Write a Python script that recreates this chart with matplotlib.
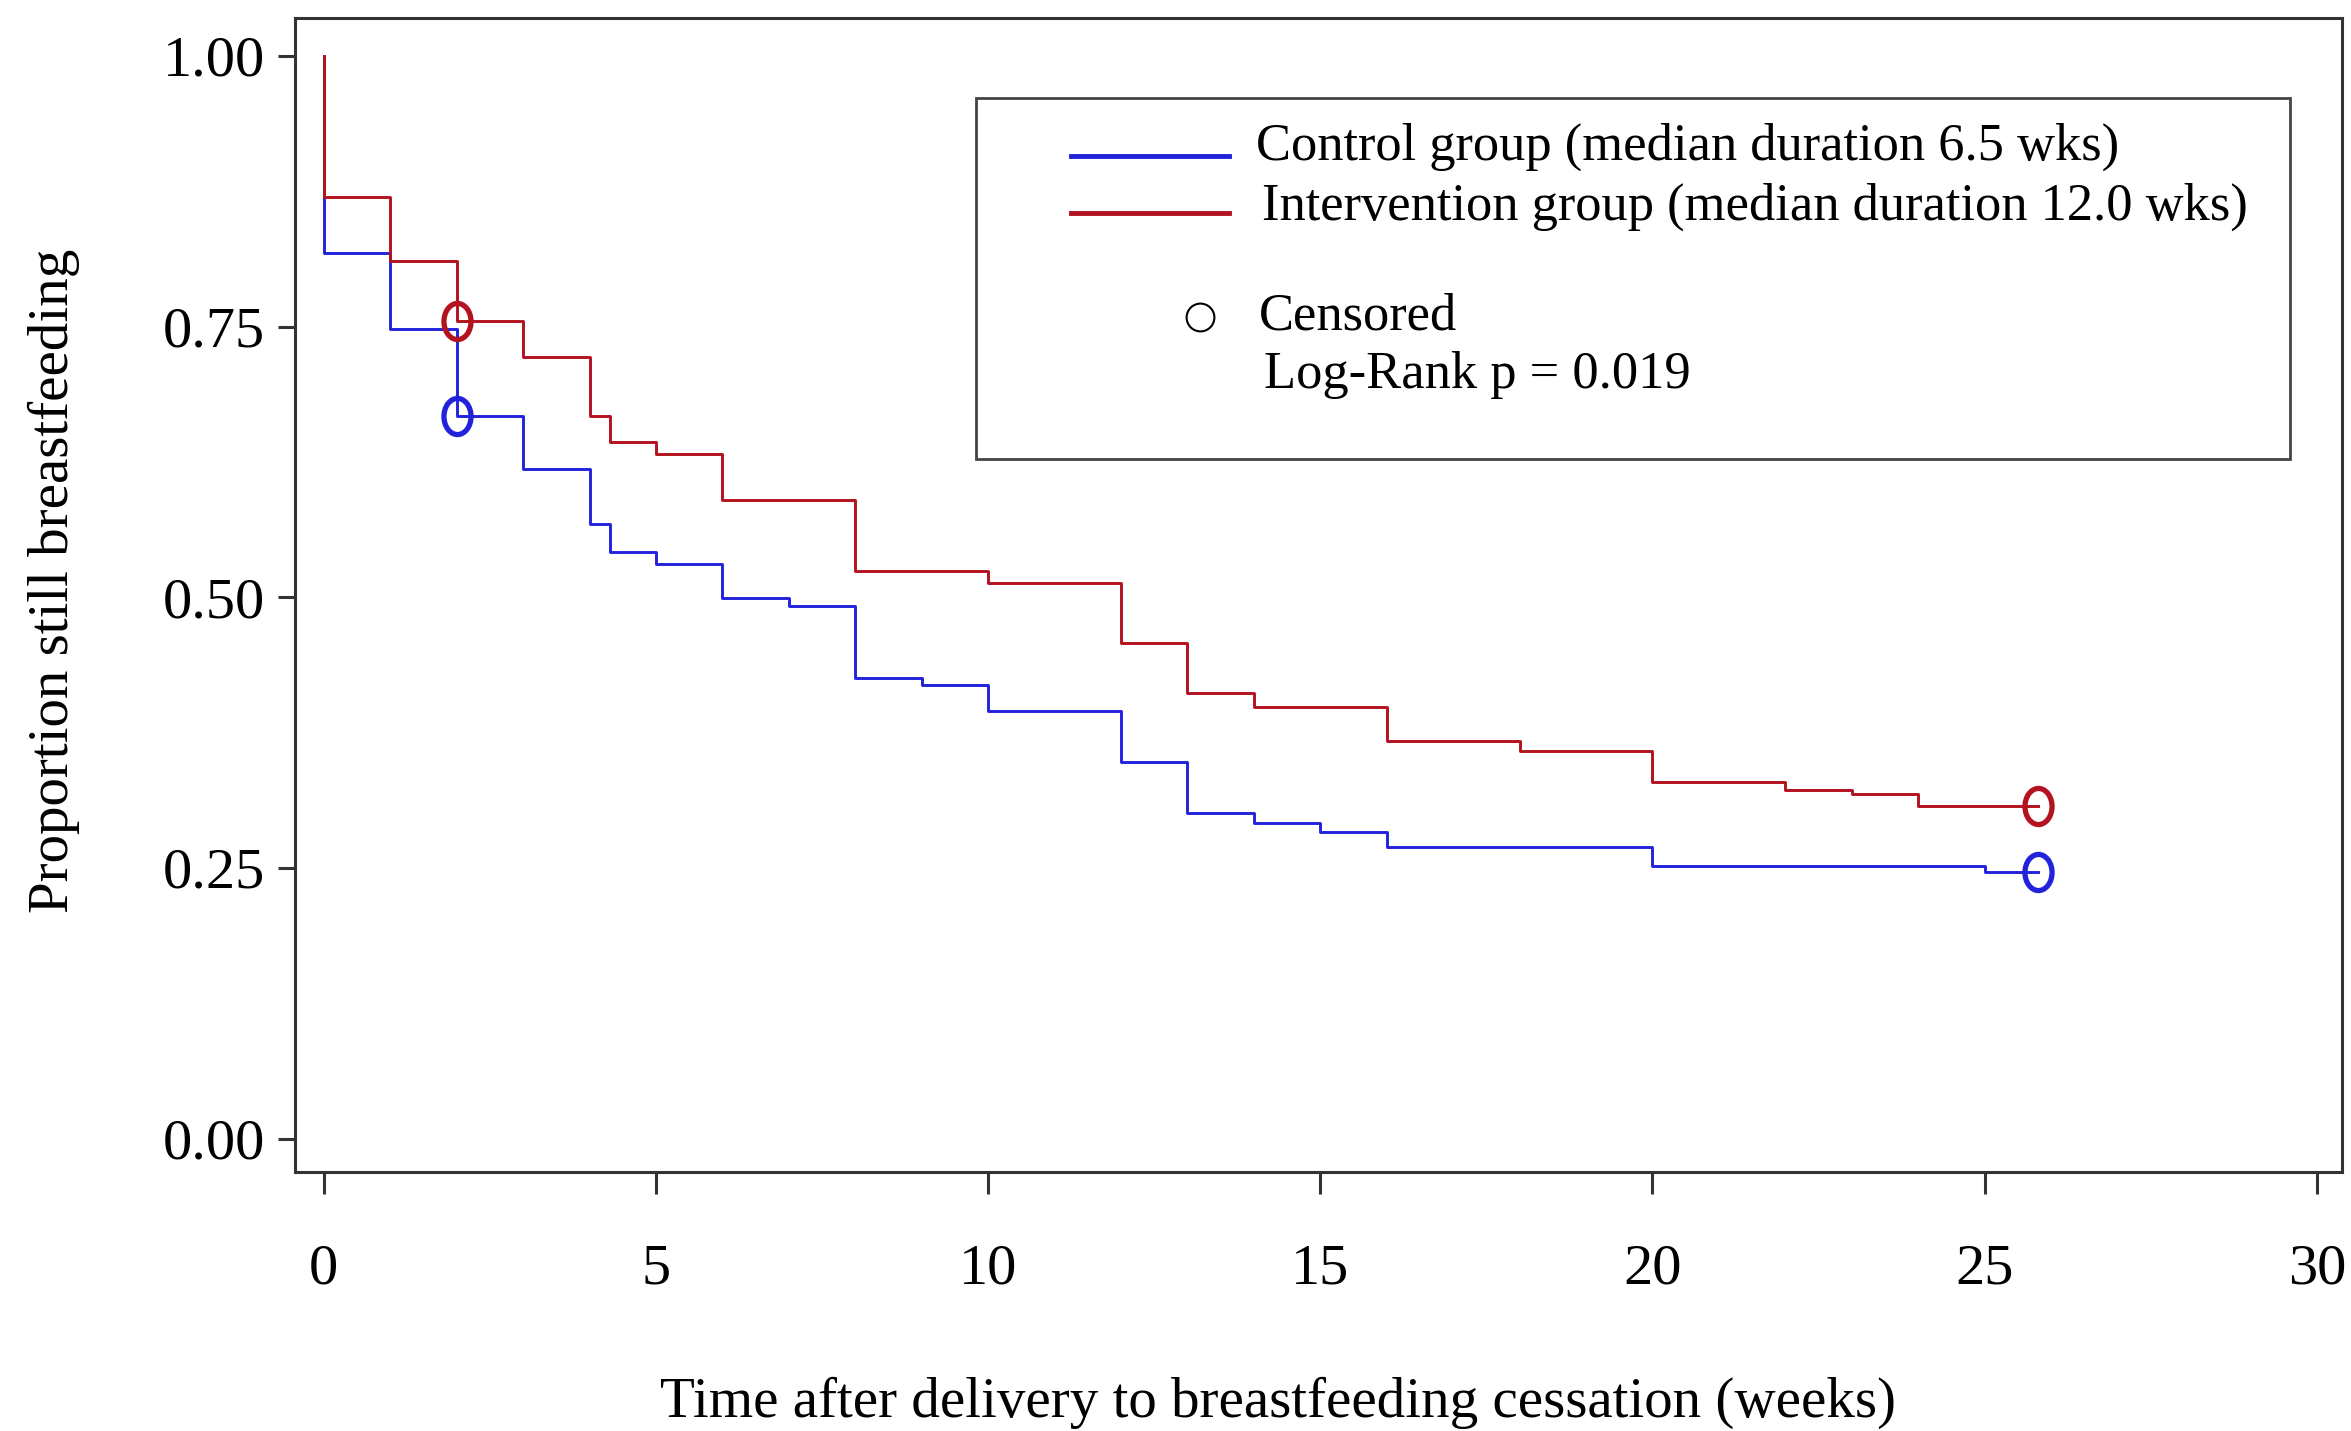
import matplotlib
matplotlib.use("Agg")
import matplotlib.pyplot as plt
from matplotlib.path import Path
from matplotlib.patches import Rectangle
from matplotlib.lines import Line2D
from matplotlib.transforms import Affine2D

# Kaplan-Meier steps (weeks, proportion still breastfeeding)
weeks_ctrl = [0, 0, 1, 2, 3, 4, 4.3, 5, 6, 7, 8, 9, 10, 12, 13, 14, 15, 16, 20, 25, 25.8]
surv_ctrl = [1.0, 0.818, 0.748, 0.667, 0.618, 0.568, 0.542, 0.531, 0.499, 0.492,
             0.425, 0.419, 0.395, 0.348, 0.301, 0.291, 0.283, 0.269, 0.252, 0.246, 0.246]

weeks_int = [0, 0, 1, 2, 3, 4, 4.3, 5, 6, 8, 10, 12, 13, 14, 16, 18, 20, 22, 23, 24, 25.8]
surv_int = [1.0, 0.870, 0.811, 0.755, 0.722, 0.667, 0.643, 0.632, 0.590, 0.524,
            0.513, 0.458, 0.412, 0.399, 0.367, 0.358, 0.329, 0.322, 0.318, 0.307, 0.307]

# censored observations
cens_ctrl_x = [2, 25.8]
cens_ctrl_y = [0.667, 0.246]
cens_int_x = [2, 25.8]
cens_int_y = [0.755, 0.307]

xticks = [0, 5, 10, 15, 20, 25, 30]
yticks = [0.0, 0.25, 0.5, 0.75, 1.0]

blue = "#2222dd"
red = "#b3121e"
frame = "#333333"

plt.rcParams["font.family"] = ["Liberation Serif", "DejaVu Serif"]

fig = plt.figure(figsize=(23.51, 14.31), dpi=100)
ax = fig.add_axes([0.1256, 0.1813, 0.8706, 0.8061])

# tall ellipse marker for censored points
ellipse = Path.unit_circle().transformed(Affine2D().scale(0.75, 1.0))

ax.step(weeks_ctrl, surv_ctrl, where="post", color=blue, lw=2.1)
ax.step(weeks_int, surv_int, where="post", color=red, lw=2.1)
ax.plot(cens_ctrl_x, cens_ctrl_y, ls="none", marker=ellipse, ms=26, mfc="none", mec=blue, mew=3.8)
ax.plot(cens_int_x, cens_int_y, ls="none", marker=ellipse, ms=26, mfc="none", mec=red, mew=3.8)

ax.set_xlim(-0.43, 30.38)
ax.set_ylim(-0.0305, 1.035)
ax.set_xticks(xticks)
ax.set_yticks(yticks)
ax.set_yticklabels([f"{v:.2f}" for v in yticks])
ax.tick_params(axis="both", direction="out", width=2.2, color=frame, labelsize=42)
ax.tick_params(axis="x", length=16, pad=36)
ax.tick_params(axis="y", length=12, pad=10)
for s in ax.spines.values():
    s.set_linewidth(2.2)
    s.set_color(frame)

ax.text(-0.1180, 0.5117, "Proportion still breastfeeding", rotation=90, fontsize=41,
        ha="center", va="center", transform=ax.transAxes)
ax.text(0.4799, -0.2003, "Time after delivery to breastfeeding cessation (weeks)", fontsize=41,
        ha="center", va="center", transform=ax.transAxes)

# legend box drawn by hand (SAS-style layout)
ax.add_patch(Rectangle((0.3326, 0.6177), 0.6418, 0.3133, transform=ax.transAxes,
                       facecolor="white", edgecolor="#444444", lw=2, zorder=5))
ax.add_line(Line2D([0.3788, 0.4564], [0.8804, 0.8804], color=blue, lw=3.5,
                   transform=ax.transAxes, zorder=6))
ax.add_line(Line2D([0.3788, 0.4564], [0.8309, 0.8309], color=red, lw=3.5,
                   transform=ax.transAxes, zorder=6))
ax.text(0.4696, 0.888, "Control group (median duration 6.5 wks)", fontsize=37.8,
        ha="left", va="center", transform=ax.transAxes, zorder=6)
ax.text(0.4725, 0.8362, "Intervention group (median duration 12.0 wks)", fontsize=37.8,
        ha="left", va="center", transform=ax.transAxes, zorder=6)
ax.add_line(Line2D([0.4418], [0.7412], ls="none", marker="o", ms=20, mfc="none",
                   mec="black", mew=1.5, transform=ax.transAxes, zorder=6))
ax.text(0.4710, 0.7412, "Censored", fontsize=37.8,
        ha="left", va="center", transform=ax.transAxes, zorder=6)
ax.text(0.4733, 0.6905, "Log-Rank p = 0.019", fontsize=37.8,
        ha="left", va="center", transform=ax.transAxes, zorder=6)

fig.savefig("out.png", dpi=100, facecolor="white")
